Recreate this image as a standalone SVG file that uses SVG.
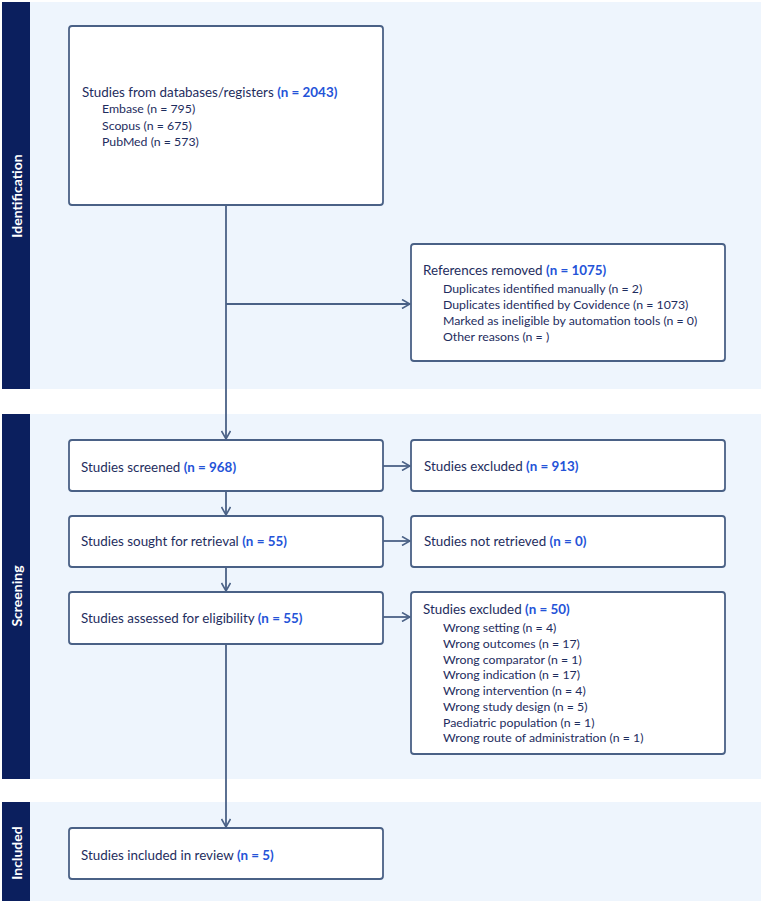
<svg xmlns="http://www.w3.org/2000/svg" width="761" height="901" viewBox="0 0 761 901">
<defs>
<marker id="arr" viewBox="0 0 10 10" refX="9" refY="5" markerWidth="10" markerHeight="10" markerUnits="userSpaceOnUse" orient="auto">
<path d="M1,0.5 L9,5 L1,9.5" fill="none" stroke="#4a6186" stroke-width="1.6"/>
</marker>
<style>
.band{fill:#eef5fd}
.side{fill:#0b1f5e}
.sidet{font-family:Lato,"Liberation Sans",sans-serif;font-weight:bold;font-size:14px;fill:#ffffff}
.box{fill:#ffffff;stroke:#4a6186;stroke-width:1.8}
.t{font-family:Lato,"Liberation Sans",sans-serif;font-size:13.4px;fill:#1e2d5e}
.s{font-family:Lato,"Liberation Sans",sans-serif;font-size:12.3px;fill:#1e2d5e}
.n{font-weight:bold;fill:#2453d8}
.c{fill:none;stroke:#4a6186;stroke-width:1.8}
</style>
</defs>
<rect width="761" height="901" fill="#ffffff"/>
<g id="bands">
<rect class="band" x="30" y="2" width="731" height="387"/>
<rect class="side" x="2" y="2" width="28" height="387"/>
<text class="sidet" transform="translate(22,196) rotate(-90)" text-anchor="middle">Identification</text>
<rect class="band" x="30" y="414" width="731" height="365"/>
<rect class="side" x="2" y="414" width="28" height="365"/>
<text class="sidet" transform="translate(22,596) rotate(-90)" text-anchor="middle">Screening</text>
<rect class="band" x="30" y="802" width="731" height="99"/>
<rect class="side" x="2" y="802" width="28" height="99"/>
<text class="sidet" transform="translate(22,853) rotate(-90)" text-anchor="middle">Included</text>
</g>
<g id="connectors">
<path class="c" d="M226,205 V439" marker-end="url(#arr)"/>
<path class="c" d="M226,304 H410" marker-end="url(#arr)"/>
<path class="c" d="M226,491 V515" marker-end="url(#arr)"/>
<path class="c" d="M226,567 V591" marker-end="url(#arr)"/>
<path class="c" d="M226,644 V827" marker-end="url(#arr)"/>
<path class="c" d="M383,466 H410" marker-end="url(#arr)"/>
<path class="c" d="M383,541 H410" marker-end="url(#arr)"/>
<path class="c" d="M383,617 H410" marker-end="url(#arr)"/>
</g>
<g id="n-databases">
<rect class="box" x="69" y="26" width="314" height="179" rx="3"/>
<text class="t" x="82" y="97">Studies from databases/registers <tspan class="n">(n = 2043)</tspan></text>
<text class="s" x="102" y="113">Embase (n = 795)</text>
<text class="s" x="102" y="130">Scopus (n = 675)</text>
<text class="s" x="102" y="146">PubMed (n = 573)</text>
</g>
<g id="n-removed">
<rect class="box" x="411" y="244" width="314" height="117" rx="3"/>
<text class="t" x="423" y="275">References removed <tspan class="n">(n = 1075)</tspan></text>
<text class="s" x="443" y="293">Duplicates identified manually (n = 2)</text>
<text class="s" x="443" y="309">Duplicates identified by Covidence (n = 1073)</text>
<text class="s" x="443" y="325">Marked as ineligible by automation tools (n = 0)</text>
<text class="s" x="443" y="341">Other reasons (n = )</text>
</g>
<g id="n-screened">
<rect class="box" x="69" y="440" width="314" height="51" rx="3"/>
<text class="t" x="81" y="472">Studies screened <tspan class="n">(n = 968)</tspan></text>
</g>
<g id="n-excluded1">
<rect class="box" x="411" y="440" width="314" height="51" rx="3"/>
<text class="t" x="424" y="471">Studies excluded <tspan class="n">(n = 913)</tspan></text>
</g>
<g id="n-sought">
<rect class="box" x="69" y="516" width="314" height="51" rx="3"/>
<text class="t" x="81" y="546">Studies sought for retrieval <tspan class="n">(n = 55)</tspan></text>
</g>
<g id="n-notretrieved">
<rect class="box" x="411" y="516" width="314" height="51" rx="3"/>
<text class="t" x="424" y="546">Studies not retrieved <tspan class="n">(n = 0)</tspan></text>
</g>
<g id="n-assessed">
<rect class="box" x="69" y="592" width="314" height="52" rx="3"/>
<text class="t" x="81" y="623">Studies assessed for eligibility <tspan class="n">(n = 55)</tspan></text>
</g>
<g id="n-excluded2">
<rect class="box" x="411" y="592" width="314" height="162" rx="3"/>
<text class="t" x="423" y="614">Studies excluded <tspan class="n">(n = 50)</tspan></text>
<text class="s" x="443" y="632">Wrong setting (n = 4)</text>
<text class="s" x="443" y="648">Wrong outcomes (n = 17)</text>
<text class="s" x="443" y="664">Wrong comparator (n = 1)</text>
<text class="s" x="443" y="679">Wrong indication (n = 17)</text>
<text class="s" x="443" y="695">Wrong intervention (n = 4)</text>
<text class="s" x="443" y="711">Wrong study design (n = 5)</text>
<text class="s" x="443" y="727">Paediatric population (n = 1)</text>
<text class="s" x="443" y="742">Wrong route of administration (n = 1)</text>
</g>
<g id="n-included">
<rect class="box" x="69" y="828" width="314" height="51" rx="3"/>
<text class="t" x="81" y="860">Studies included in review <tspan class="n">(n = 5)</tspan></text>
</g>
</svg>
